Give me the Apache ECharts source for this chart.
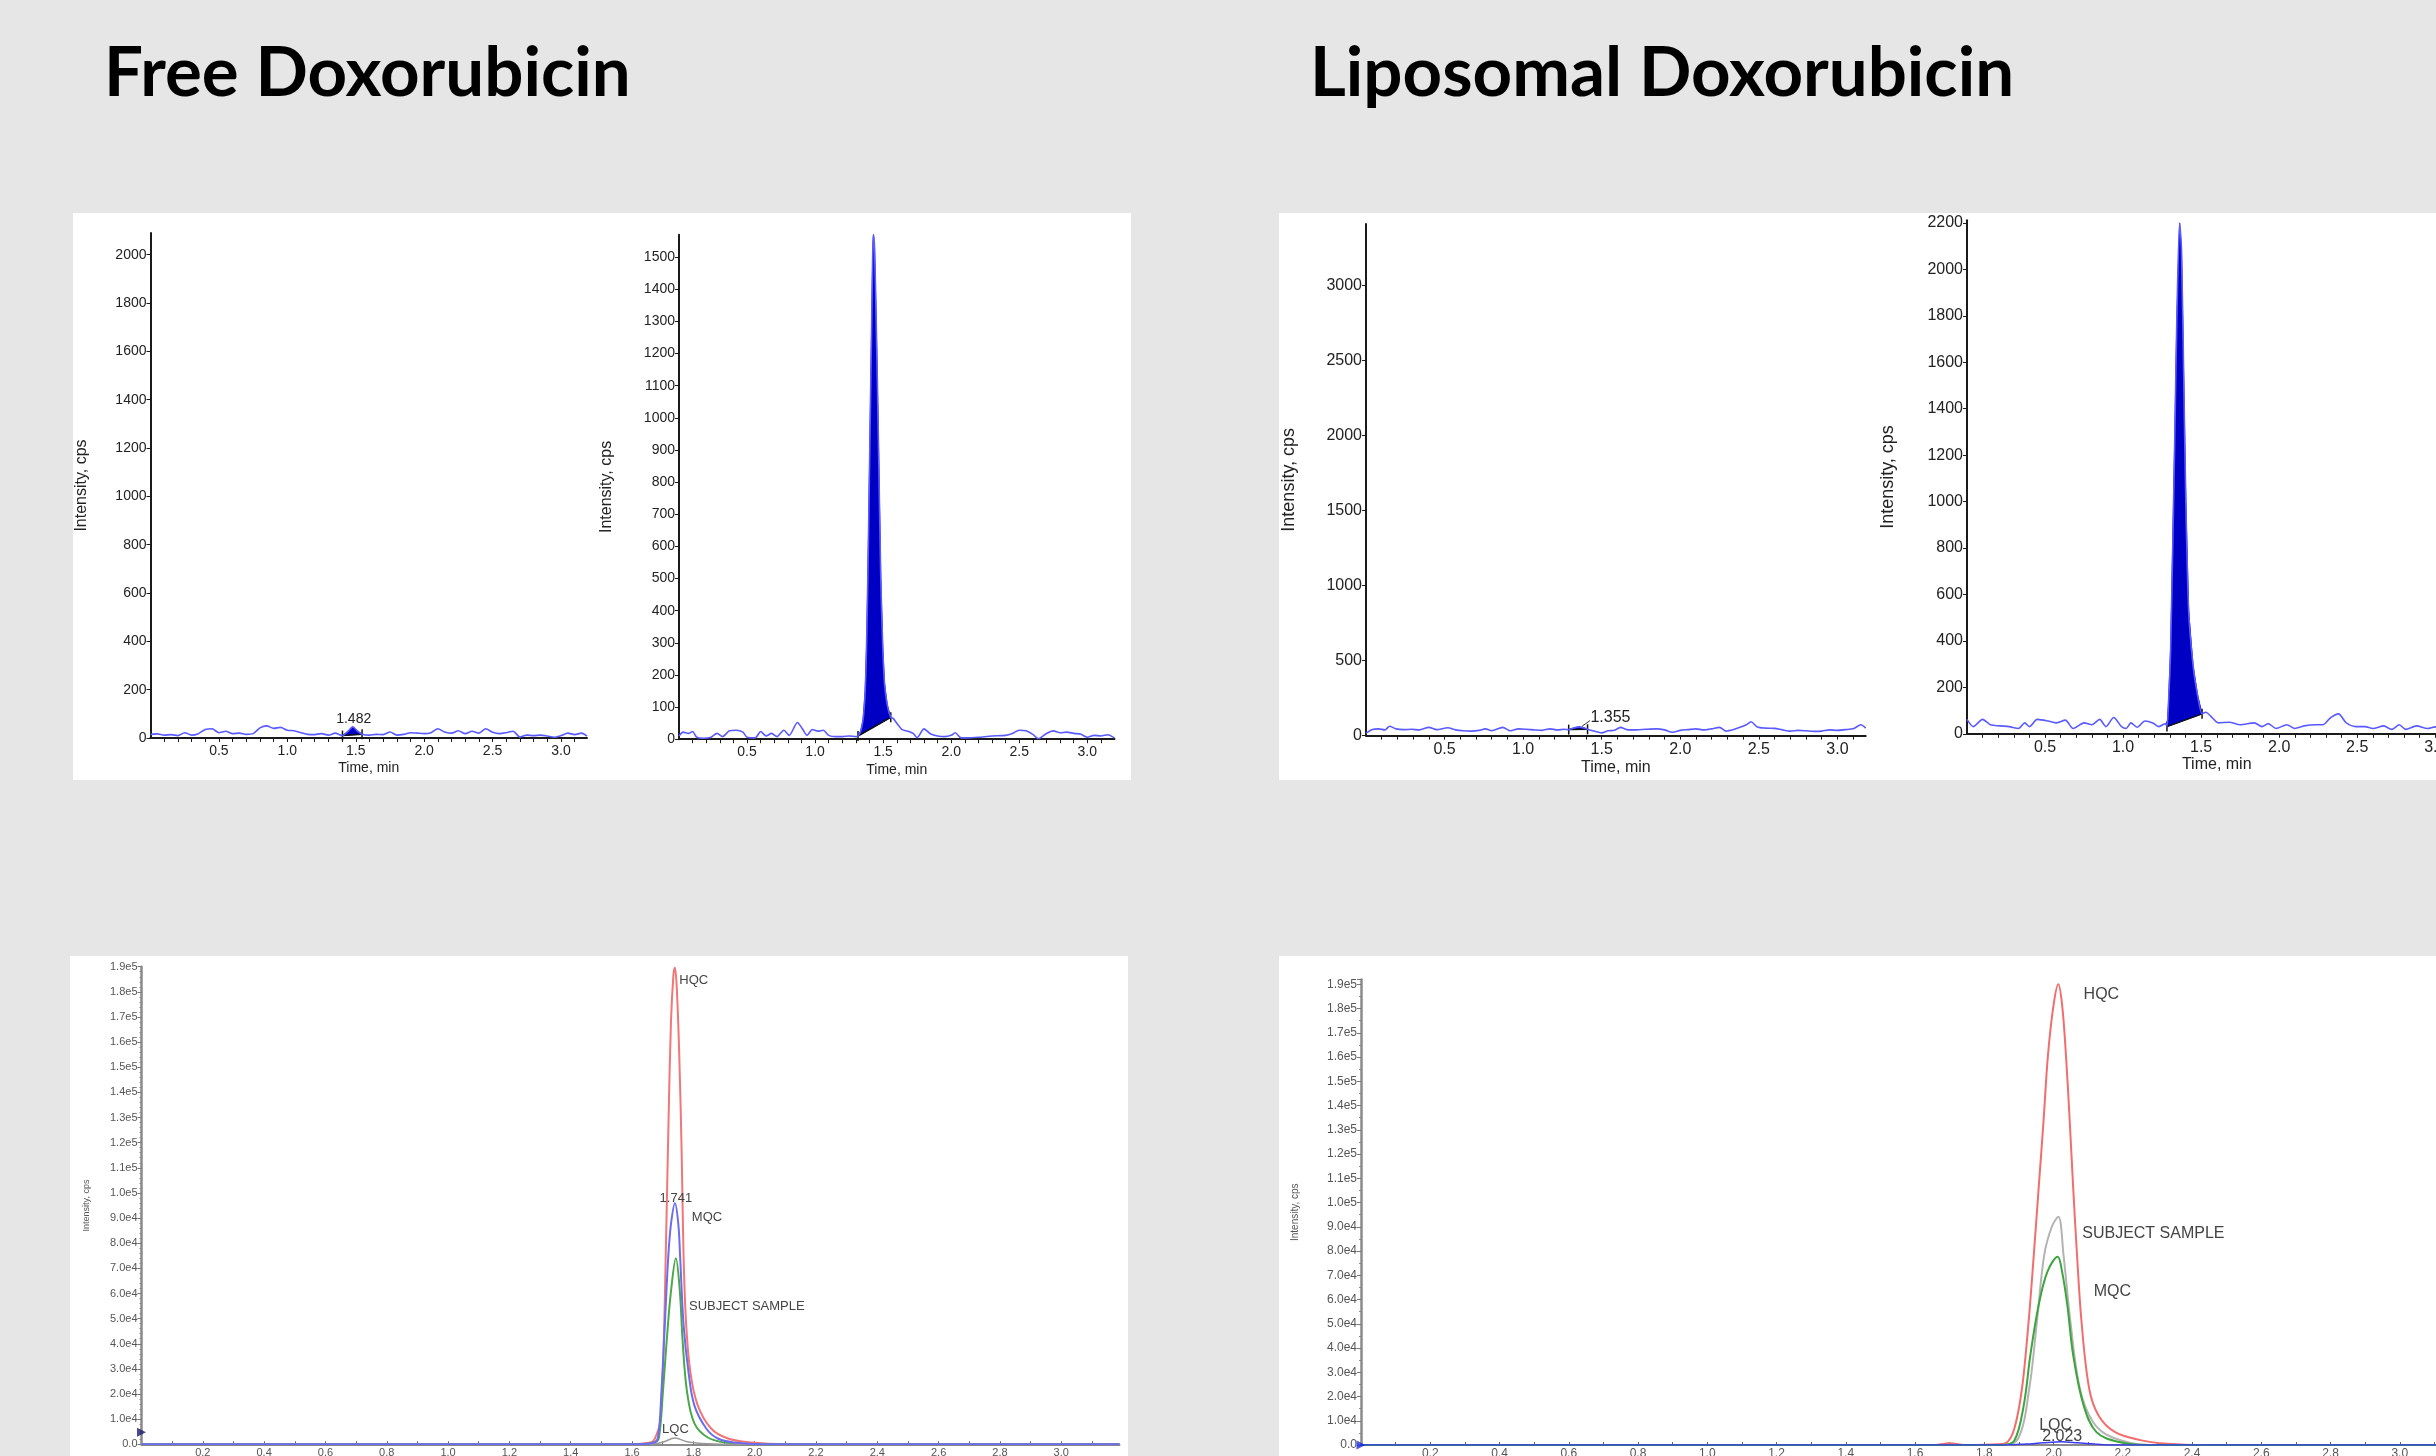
<!DOCTYPE html>
<html><head><meta charset="utf-8">
<script src="https://cdn.jsdelivr.net/npm/echarts@6/dist/echarts.min.js"></script>
<style>html,body{margin:0;padding:0;background:#e6e6e6;overflow:hidden}#c{width:2436px;height:1456px}</style>
</head><body><div id="c"></div>
<script>
// ---------- DATA ----------
const titles = ['Free Doxorubicin', 'Liposomal Doxorubicin'];

// Top-left, chart 1 (Free, blank-like trace)
const trace1 = [[0,15],[0.05,17],[0.1,12],[0.15,14],[0.2,10],[0.25,22],[0.3,12],[0.35,18],[0.4,35],[0.45,38],[0.5,22],[0.55,28],[0.6,18],[0.65,20],[0.7,15],[0.75,18],[0.8,42],[0.85,50],[0.9,40],[0.95,44],[1.0,32],[1.05,30],[1.1,22],[1.15,15],[1.2,14],[1.25,18],[1.3,12],[1.35,20],[1.403,10],[1.44,26],[1.479,46],[1.51,30],[1.546,16],[1.6,12],[1.65,15],[1.7,14],[1.75,25],[1.8,12],[1.85,15],[1.9,22],[1.95,20],[2.0,18],[2.05,22],[2.1,38],[2.15,25],[2.2,20],[2.25,30],[2.3,18],[2.35,28],[2.4,20],[2.45,38],[2.5,24],[2.55,18],[2.6,22],[2.65,28],[2.7,4],[2.75,12],[2.8,10],[2.85,12],[2.9,8],[2.95,3],[3.0,10],[3.05,20],[3.1,14],[3.15,20],[3.19,8]];
const peak1Base = [1.403, 10, 1.546, 16];
const label1T = [1.485], label1V = [80], label1Text = ['1.482'];

// Top-left, chart 2 (Free, sample)
const trace2 = [[0,10],[0.03,22],[0.07,18],[0.1,24],[0.13,6],[0.18,3],[0.23,5],[0.28,18],[0.32,8],[0.37,26],[0.42,28],[0.47,22],[0.5,6],[0.56,4],[0.6,24],[0.64,10],[0.68,18],[0.72,8],[0.77,28],[0.81,12],[0.87,52],[0.91,30],[0.94,12],[0.98,30],[1.02,25],[1.06,28],[1.1,12],[1.15,8],[1.2,8],[1.25,10],[1.3,8],
  [1.315,10],[1.335,25],[1.353,62],[1.368,150],[1.378,287],[1.388,512],[1.404,962],[1.416,1300],[1.424,1525],[1.429,1570],[1.437,1525],[1.449,1300],[1.464,962],[1.482,512],[1.497,287],[1.51,174],[1.53,107],[1.556,68],
  [1.575,64],[1.6,50],[1.64,30],[1.68,25],[1.72,18],[1.75,5],[1.8,32],[1.85,16],[1.9,10],[1.95,8],[2.0,12],[2.03,20],[2.07,5],[2.12,4],[2.2,6],[2.3,10],[2.4,12],[2.45,18],[2.5,28],[2.55,26],[2.6,15],[2.64,2],[2.7,18],[2.75,26],[2.8,20],[2.85,22],[2.9,18],[2.95,16],[3.0,6],[3.05,12],[3.1,10],[3.15,14],[3.2,4]];
const peak2Base = [1.315, 10, 1.556, 68];

// Top-right, chart 3 (Liposomal, blank-like trace)
const trace3 = [[0,15],[0.04,40],[0.08,45],[0.12,38],[0.15,62],[0.19,45],[0.24,40],[0.29,42],[0.34,38],[0.4,55],[0.45,40],[0.52,52],[0.57,38],[0.62,32],[0.67,30],[0.72,35],[0.76,45],[0.8,32],[0.87,55],[0.92,32],[0.97,45],[1.02,42],[1.07,38],[1.12,35],[1.17,45],[1.22,38],[1.26,42],[1.29,40],[1.32,50],[1.355,58],[1.39,50],[1.41,42],[1.45,30],[1.5,18],[1.54,32],[1.58,35],[1.62,55],[1.66,40],[1.72,38],[1.78,42],[1.85,45],[1.9,38],[1.95,22],[2.0,35],[2.05,40],[2.1,45],[2.15,38],[2.2,45],[2.25,55],[2.29,30],[2.34,40],[2.38,55],[2.42,72],[2.45,92],[2.49,58],[2.54,50],[2.6,48],[2.65,38],[2.7,30],[2.75,35],[2.8,32],[2.85,28],[2.9,30],[2.95,38],[3.0,35],[3.05,40],[3.1,45],[3.15,72],[3.18,50]];
const peak3Base = [1.29, 40, 1.41, 42];
const label3T = [1.428], label3V = [120], label3Text = ['1.355'];
const leader3 = [1.372, 60, 1.425, 100];

// Top-right, chart 4 (Liposomal, sample)
const trace4 = [[0,62],[0.04,31],[0.1,62],[0.15,39],[0.21,34],[0.27,31],[0.33,23],[0.37,47],[0.4,31],[0.45,62],[0.52,55],[0.57,47],[0.63,59],[0.68,23],[0.75,47],[0.8,39],[0.85,62],[0.89,31],[0.94,70],[0.99,31],[1.02,23],[1.05,47],[1.09,28],[1.14,55],[1.19,47],[1.23,31],[1.27,44],
  [1.281,31],[1.29,120],[1.305,374],[1.332,1309],[1.344,1776],[1.362,2200],[1.374,2088],[1.39,1465],[1.402,997],[1.42,530],[1.448,296],[1.476,171],[1.506,86],
  [1.53,93],[1.57,70],[1.61,47],[1.68,50],[1.75,39],[1.84,47],[1.89,31],[1.93,44],[1.98,23],[2.05,39],[2.1,23],[2.16,34],[2.23,39],[2.28,39],[2.33,70],[2.38,86],[2.43,47],[2.49,31],[2.55,31],[2.6,23],[2.67,34],[2.72,19],[2.77,39],[2.81,19],[2.88,34],[2.95,23],[3.0,30],[3.05,25],[3.1,35],[3.15,22],[3.2,28]];
const peak4Base = [1.281, 31, 1.506, 86];

// Bottom-left overlay (Free)
const blHQC = [[0,0],[1.6,0],[1.66,700],[1.672,1700],[1.691,8400],[1.702,35000],[1.71,75300],[1.719,128400],[1.727,168000],[1.735,186700],[1.74,189600],[1.746,181400],[1.754,155000],[1.762,115200],[1.768,75300],[1.776,48800],[1.79,28900],[1.814,15600],[1.858,6300],[1.913,2300],[1.99,700],[2.1,0],[3.19,0]];
const blMQC = [[0,0],[1.62,0],[1.67,600],[1.685,2900],[1.696,21200],[1.707,47700],[1.718,74300],[1.727,87600],[1.74,95900],[1.751,87600],[1.757,74300],[1.768,47700],[1.784,28900],[1.803,15600],[1.842,6300],[1.88,2300],[1.935,700],[2.023,0],[3.19,0]];
const blSubject = [[0,0],[1.63,0],[1.675,800],[1.688,2900],[1.701,21200],[1.713,41100],[1.727,60800],[1.743,74000],[1.756,60800],[1.765,41100],[1.779,21200],[1.803,8400],[1.847,2700],[1.913,500],[1.98,0],[3.19,0]];
const blLQC = [[0,0],[1.66,0],[1.70,800],[1.74,2500],[1.78,1000],[1.85,200],[1.95,0],[3.19,0]];
const blMarker = [[0, 4800]];
const blLabelT = [1.754, 1.743, 1.795, 1.786, 1.698];
const blLabelV = [184600, 97900, 90100, 54800, 5800];
const blLabelText = ['HQC', '1.741', 'MQC', 'SUBJECT SAMPLE', 'LQC'];
const blLabelAlign = ['left', 'center', 'left', 'left', 'left'];

// Bottom-right overlay (Liposomal)
const brHQC = [[0,0],[1.65,0],[1.7,700],[1.75,0],[1.84,300],[1.865,1000],[1.887,6800],[1.909,23300],[1.928,50700],[1.943,78200],[1.957,105700],[1.971,133200],[1.984,160700],[2.0,181300],[2.014,190000],[2.025,181300],[2.036,160700],[2.047,133200],[2.057,105700],[2.068,78200],[2.081,50700],[2.103,23300],[2.13,12200],[2.178,5300],[2.254,1900],[2.329,500],[2.437,0],[3.2,0]];
const brSubject = [[0,0],[1.85,0],[1.898,2700],[1.93,23300],[1.952,50700],[1.973,78200],[1.995,90000],[2.014,94150],[2.029,78200],[2.049,50700],[2.076,23300],[2.114,9500],[2.167,3300],[2.275,0],[3.2,0]];
const brMQC = [[0,0],[1.85,0],[1.887,1900],[1.914,16300],[1.933,36900],[1.957,57600],[1.982,71300],[2.012,77650],[2.025,71300],[2.04,57600],[2.057,36900],[2.087,16300],[2.124,5300],[2.189,1200],[2.275,0],[3.2,0]];
const brLQC = [[0,0],[1.86,0],[1.92,400],[1.97,900],[2.022,1300],[2.07,900],[2.12,400],[2.17,0],[3.2,0]];
const brMarker = [[0, 0]];
const brLabelT = [2.087, 2.083, 2.116, 2.006, 2.025];
const brLabelV = [185800, 87300, 63200, 8000, 3500];
const brLabelText = ['HQC', 'SUBJECT SAMPLE', 'MQC', 'LQC', '2.023'];
const brLabelAlign = ['left', 'left', 'left', 'center', 'center'];

// Tick labels
const yLabels1 = [0,200,400,600,800,1000,1200,1400,1600,1800,2000];
const yLabels2 = [0,100,200,300,400,500,600,700,800,900,1000,1100,1200,1300,1400,1500];
const yLabels3 = [0,500,1000,1500,2000,2500,3000];
const yLabels4 = [0,200,400,600,800,1000,1200,1400,1600,1800,2000,2200];
const xLabelsTop = [0.5,1.0,1.5,2.0,2.5,3.0];
const xTicksTenth = [0.1,0.2,0.3,0.4,0.5,0.6,0.7,0.8,0.9,1.0,1.1,1.2,1.3,1.4,1.5,1.6,1.7,1.8,1.9,2.0,2.1,2.2,2.3,2.4,2.5,2.6,2.7,2.8,2.9,3.0,3.1];
const xLabelsBottom = [0.2,0.4,0.6,0.8,1.0,1.2,1.4,1.6,1.8,2.0,2.2,2.4,2.6,2.8,3.0];

// ---------- CHART ----------
const F = '"Liberation Sans", Arial, sans-serif';
const chart = echarts.init(document.getElementById('c'), null, {renderer: 'canvas'});

const grids = [
  {left:150.5, top:233, width:436.5, height:505},
  {left:679, top:234.7, width:435.5, height:504.5},
  {left:1366, top:224, width:499.7, height:511.6},
  {left:1967, top:220.2, width:499.5, height:513.6},
  {left:141.5, top:966.7, width:978, height:477.6},
  {left:1361, top:979.4, width:1108, height:465.6}
].map(g => Object.assign({containLabel:false, outerBoundsMode:'none', show:false}, g));

function topX(gi, max, fs, gap) {
  return {type:'value', gridIndex:gi, min:0, max:max,
    name:'Time, min', nameLocation:'middle', nameGap:gap,
    nameTextStyle:{fontFamily:F, fontSize:fs, color:'#222'},
    axisLine:{show:true, onZero:false, lineStyle:{color:'#1a1a1a', width:2}},
    axisTick:{show:true, customValues:xTicksTenth, length:4, lineStyle:{color:'#1a1a1a', width:1}},
    axisLabel:{customValues:xLabelsTop, formatter:v => v.toFixed(1), fontFamily:F, fontSize:fs, color:'#222', margin:6},
    splitLine:{show:false}};
}
function topY(gi, max, labels, fs, nameFs, gap) {
  return {type:'value', gridIndex:gi, min:0, max:max,
    name:'Intensity, cps', nameLocation:'middle', nameGap:gap,
    nameTextStyle:{fontFamily:F, fontSize:nameFs, color:'#222'},
    axisLine:{show:true, onZero:false, lineStyle:{color:'#1a1a1a', width:2}},
    axisTick:{show:true, customValues:labels, length:4, lineStyle:{color:'#1a1a1a', width:1}},
    axisLabel:{customValues:labels, formatter:v => String(v), fontFamily:F, fontSize:fs, color:'#222', margin:4},
    splitLine:{show:false}};
}
const eFmt = v => v === 0 ? '0.0' : (v >= 100000 ? (v/1e5).toFixed(1) + 'e5' : (v/1e4).toFixed(1) + 'e4');
function botX(gi, max, fs) {
  return {type:'value', gridIndex:gi, min:0, max:max,
    axisLine:{show:true, onZero:false, lineStyle:{color:'#8a8a8a', width:2}},
    axisTick:{show:true, inside:true, customValues:xTicksTenth, length:3, lineStyle:{color:'#666', width:1}},
    axisLabel:{customValues:xLabelsBottom, formatter:v => v.toFixed(1), fontFamily:F, fontSize:fs, color:'#555', margin:3},
    splitLine:{show:false}};
}
function botY(gi, max, fs, gap, minorSplit, showMax) {
  return {type:'value', gridIndex:gi, min:0, max:max, interval:10000,
    name:'Intensity, cps', nameLocation:'middle', nameGap:gap,
    nameTextStyle:{fontFamily:F, fontSize:fs-2, color:'#555'},
    axisLine:{show:true, onZero:false, lineStyle:{color:'#8a8a8a', width:2.5}},
    axisTick:{show:true, length:4, lineStyle:{color:'#777', width:1}},
    minorTick:{show:true, splitNumber:minorSplit, length:2, lineStyle:{color:'#888', width:1}},
    axisLabel:{formatter:eFmt, fontFamily:F, fontSize:fs, color:'#555', margin:4, showMaxLabel:showMax},
    splitLine:{show:false}};
}

function traceSeries(gi, data) {
  return {type:'line', xAxisIndex:gi, yAxisIndex:gi, data:data, showSymbol:false, smooth:0.25,
    lineStyle:{color:'#5a5aff', width:1.6}, z:4, silent:true, animation:false};
}
function peakSeries(gi, trace, base, leader) {
  return {type:'custom', xAxisIndex:gi, yAxisIndex:gi, data:[[base[0], base[1]]], z:3, silent:true, clip:false, animation:false,
    renderItem: (p, api) => {
      const a = api.coord([base[0], base[1]]), b = api.coord([base[2], base[3]]);
      const pts = [a];
      trace.forEach(q => { if (q[0] > base[0] && q[0] < base[2]) pts.push(api.coord(q)); });
      pts.push(b);
      const ch = [
        {type:'polygon', shape:{points:pts}, style:{fill:'#0000c4', stroke:'#0000c4', lineWidth:1}},
        {type:'line', shape:{x1:a[0], y1:a[1], x2:b[0], y2:b[1]}, style:{stroke:'#111', lineWidth:1.5}},
        {type:'line', shape:{x1:a[0], y1:a[1]-5, x2:a[0], y2:a[1]+5}, style:{stroke:'#111', lineWidth:1.5}},
        {type:'line', shape:{x1:b[0], y1:b[1]-5, x2:b[0], y2:b[1]+5}, style:{stroke:'#111', lineWidth:1.5}}
      ];
      if (leader) {
        const l1 = api.coord([leader[0], leader[1]]), l2 = api.coord([leader[2], leader[3]]);
        ch.push({type:'line', shape:{x1:l1[0], y1:l1[1], x2:l2[0], y2:l2[1]}, style:{stroke:'#333', lineWidth:1}});
      }
      return {type:'group', children:ch};
    }};
}
function textSeries(gi, ts, vs, texts, aligns, fs, color) {
  return {type:'custom', xAxisIndex:gi, yAxisIndex:gi, clip:false, z:6, silent:true, animation:false,
    data: ts.map((t, i) => [t, vs[i], i]),
    renderItem: (p, api) => {
      const i = api.value(2);
      const c = api.coord([api.value(0), api.value(1)]);
      return {type:'text', x:c[0], y:c[1],
        style:{text:texts[i], fill:color, font:fs + 'px ' + F, align:aligns ? aligns[i] : 'center', verticalAlign:'middle'}};
    }};
}
function lineSeries(gi, data, color, width) {
  return {type:'line', xAxisIndex:gi, yAxisIndex:gi, data:data, showSymbol:false, smooth:0.35,
    lineStyle:{color:color, width:width || 2}, z:4, silent:true, animation:false};
}
function markerSeries(gi, data, color) {
  return {type:'scatter', xAxisIndex:gi, yAxisIndex:gi, data:data, symbol:'triangle', symbolRotate:-90, symbolSize:9,
    itemStyle:{color:color}, clip:false, z:7, silent:true, animation:false};
}

const option = {
  backgroundColor:'#e6e6e6',
  animation:false,
  graphic:[
    {type:'rect', z:-10, shape:{x:73, y:213, width:1058, height:567}, style:{fill:'#ffffff'}},
    {type:'rect', z:-10, shape:{x:1279, y:213, width:1157, height:567}, style:{fill:'#ffffff'}},
    {type:'rect', z:-10, shape:{x:70, y:956, width:1058, height:500}, style:{fill:'#ffffff'}},
    {type:'rect', z:-10, shape:{x:1279, y:956, width:1157, height:500}, style:{fill:'#ffffff'}},
    {type:'text', x:104, y:74, style:{text:titles[0], font:'bold 69px Lato, "Open Sans", sans-serif', fill:'#000', verticalAlign:'middle'}},
    {type:'text', x:1310, y:74, style:{text:titles[1], font:'bold 69px Lato, "Open Sans", sans-serif', fill:'#000', verticalAlign:'middle'}}
  ],
  grid: grids,
  xAxis:[
    topX(0, 3.19, 14, 23), topX(1, 3.2, 14, 24), topX(2, 3.18, 16, 24), topX(3, 3.2, 16, 23),
    botX(4, 3.19, 11), botX(5, 3.2, 12)
  ],
  yAxis:[
    topY(0, 2090, yLabels1, 14, 16, 61), topY(1, 1570, yLabels2, 14, 16, 64), topY(2, 3410, yLabels3, 16, 18, 68), topY(3, 2212, yLabels4, 16, 18, 70),
    botY(4, 190000, 11, 50, 5, true), botY(5, 192000, 12, 61, 2, false)
  ],
  series:[
    peakSeries(0, trace1, peak1Base, null), traceSeries(0, trace1), textSeries(0, label1T, label1V, label1Text, null, 14, '#222'),
    peakSeries(1, trace2, peak2Base, null), traceSeries(1, trace2),
    peakSeries(2, trace3, peak3Base, leader3), traceSeries(2, trace3), textSeries(2, label3T, label3V, label3Text, ['left'], 16, '#222'),
    peakSeries(3, trace4, peak4Base, null), traceSeries(3, trace4),
    lineSeries(4, blHQC, '#f27676'), lineSeries(4, blSubject, '#4aa84a'), lineSeries(4, blLQC, '#9a9a9a', 1.5), lineSeries(4, blMQC, '#6c6cf0'),
    textSeries(4, blLabelT, blLabelV, blLabelText, blLabelAlign, 13, '#444'), markerSeries(4, blMarker, '#1a1a6e'),
    lineSeries(5, brHQC, '#f26d6d'), lineSeries(5, brSubject, '#b3b3b3'), lineSeries(5, brMQC, '#3da53d'), lineSeries(5, brLQC, '#3a3af5', 1.5),
    textSeries(5, brLabelT, brLabelV, brLabelText, brLabelAlign, 16, '#444'), markerSeries(5, brMarker, '#1a2ae0')
  ]
};
chart.setOption(option);
</script></body></html>
